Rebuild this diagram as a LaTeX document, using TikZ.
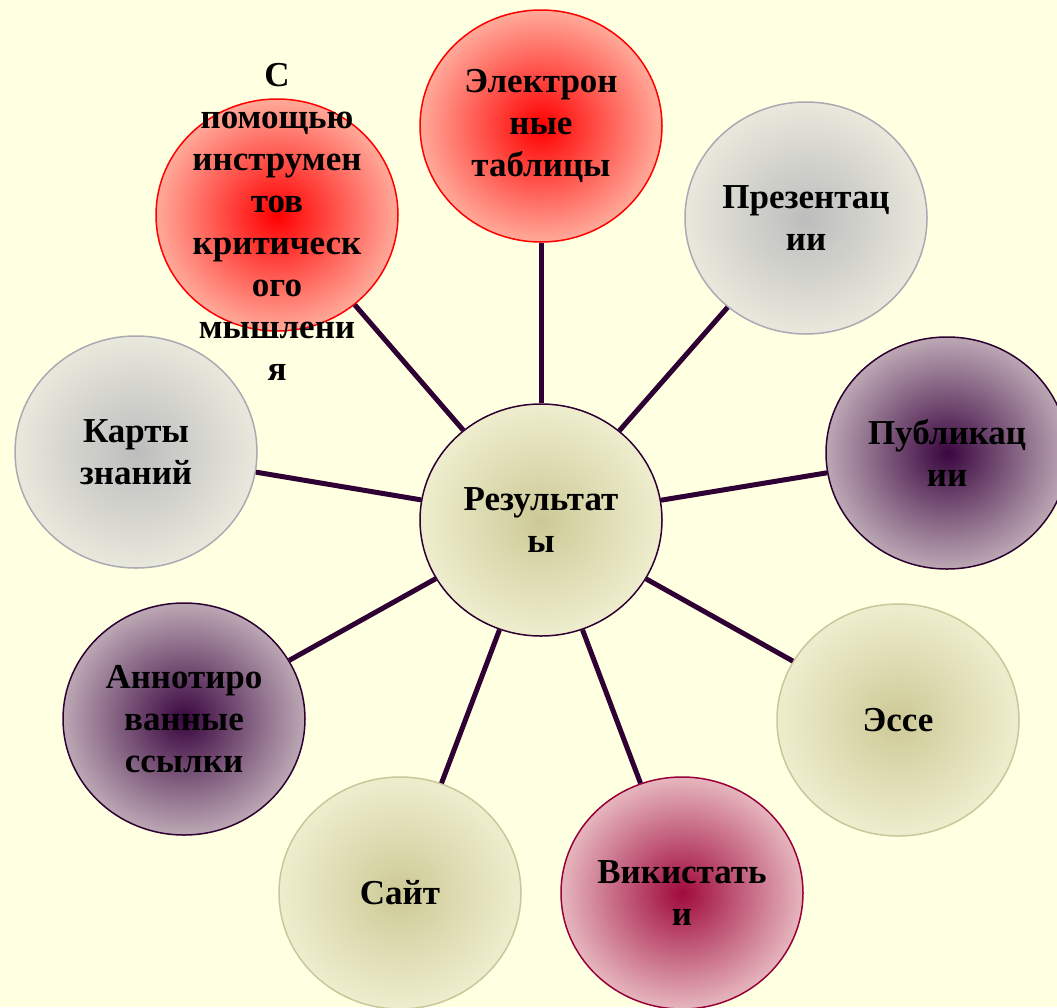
\documentclass[tikz,border=0pt]{standalone}
\usepackage{fontspec}
\setmainfont{Liberation Serif}
\usepackage{tikz}
\usetikzlibrary{shapes.geometric}

\definecolor{bgyellow}{HTML}{FFFFE1}
\definecolor{linkcol}{HTML}{2E0033}
\definecolor{redout}{HTML}{FFAA9A}
\definecolor{greyin}{HTML}{BDBDBD}
\definecolor{greyout}{HTML}{E8E8DC}
\definecolor{greyrim}{HTML}{AAAAB4}
\definecolor{plumin}{HTML}{3A0640}
\definecolor{plumout}{HTML}{BCA8B4}
\definecolor{wineinn}{HTML}{A00A3C}
\definecolor{wineout}{HTML}{E6B6BE}
\definecolor{winerim}{HTML}{99003A}
\definecolor{olivein}{HTML}{CDC996}
\definecolor{oliveout}{HTML}{EEEECE}
\definecolor{oliverim}{HTML}{C8C89A}

\tikzset{
  bubtext/.style={align=center, inner sep=0pt, font=\fontsize{35}{42}\selectfont\bfseries},
  bubble/.style={ellipse, minimum width=242pt, minimum height=232pt, bubtext, line width=1.5pt},
  redbub/.style={bubble, draw=red, inner color=red, outer color=redout},
  greybub/.style={bubble, draw=greyrim, inner color=greyin, outer color=greyout},
  plumbub/.style={bubble, draw=linkcol, inner color=plumin, outer color=plumout},
  winebub/.style={bubble, draw=winerim, inner color=wineinn, outer color=wineout},
  olivebub/.style={bubble, draw=oliverim, inner color=olivein, outer color=oliveout},
  link/.style={draw=linkcol, line width=5pt},
}

\begin{document}
\begin{tikzpicture}[x=1pt, y=-1pt]
    \fill[bgyellow] (0,0) rectangle (1057,1007);
    \useasboundingbox (0,0) rectangle (1057,1007);

    \node[olivebub, draw=linkcol] (res) at (541,520) {Результат\\ы};
    \node[redbub] (tools) at (277,215) {};
    \node[redbub] (sheets) at (541,126) {Электрон\\ные\\таблицы};
    \node[greybub] (slides) at (806,218) {Презентац\\ии};
    \node[plumbub] (pubs) at (947,453) {Публикац\\ии};
    \node[olivebub] (essay) at (898,720) {Эссе};
    \node[winebub] (wiki) at (682,893) {Викистать\\и};
    \node[olivebub] (site) at (400,893) {Сайт};
    \node[plumbub] (annot) at (184,719) {Аннотиро\\ванные\\ссылки};
    \node[greybub] (maps) at (136,452) {Карты\\знаний};

    \foreach \n in {tools,sheets,slides,pubs,essay,wiki,site,annot,maps}
        \draw[link] (res) -- (\n);

    \node[bubtext] (toolstext) at (277,222) {С\\помощью\\инструмен\\тов\\критическ\\ого\\мышлени\\я};
\end{tikzpicture}
\end{document}
